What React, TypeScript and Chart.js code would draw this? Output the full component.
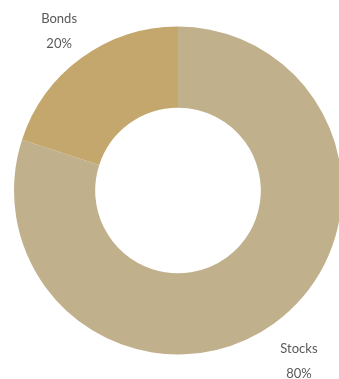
import React, { useEffect, useRef } from "react";
import { Chart, registerables } from "chart.js";

Chart.register(...registerables);

const labels = ["Stocks", "Bonds"];
const values = [80, 20];
const colors = ["#C1B08C", "#C4A76C"];

const labelPlugin = {
  id: "outerLabels",
  afterDraw(chart: any) {
    const ctx = chart.ctx;
    const meta = chart.getDatasetMeta(0);
    const total = values.reduce((a, b) => a + b, 0);
    ctx.save();
    ctx.font = "13px Lato, 'Open Sans', sans-serif";
    ctx.fillStyle = "#595959";
    ctx.textAlign = "center";
    ctx.textBaseline = "middle";
    meta.data.forEach((arc: any, i: number) => {
      const p = arc.getProps(["x", "y", "startAngle", "endAngle", "outerRadius"], true);
      const mid = (p.startAngle + p.endAngle) / 2;
      const r = p.outerRadius + 40;
      const cx = p.x + Math.cos(mid) * r;
      const cy = p.y + Math.sin(mid) * r;
      const pct = Math.round((values[i] / total) * 100) + "%";
      ctx.fillText(labels[i], cx + 1, cy - 7);
      ctx.fillText(pct, cx + 1, cy + 18);
    });
    ctx.restore();
  },
};

export default function App() {
  const ref = useRef<HTMLCanvasElement | null>(null);
  useEffect(() => {
    if (!ref.current) return;
    const chart = new Chart(ref.current, {
      type: "doughnut",
      data: {
        labels,
        datasets: [
          {
            data: values,
            backgroundColor: colors,
            borderWidth: 0,
          },
        ],
      },
      options: {
        animation: false,
        responsive: true,
        maintainAspectRatio: false,
        cutout: "50.5%",
        layout: { padding: { left: 14, right: 4, top: 26, bottom: 24 } },
        plugins: {
          legend: { display: false },
          tooltip: { enabled: false },
        },
      },
      plugins: [labelPlugin],
    });
    return () => chart.destroy();
  }, []);
  return (
    <div style={{ position: "absolute", left: 0, top: 0, width: 339, height: 379, overflow: "hidden", background: "#fff" }}>
      <div style={{ position: "relative", width: 346, height: 379 }}>
        <canvas ref={ref} />
      </div>
    </div>
  );
}
